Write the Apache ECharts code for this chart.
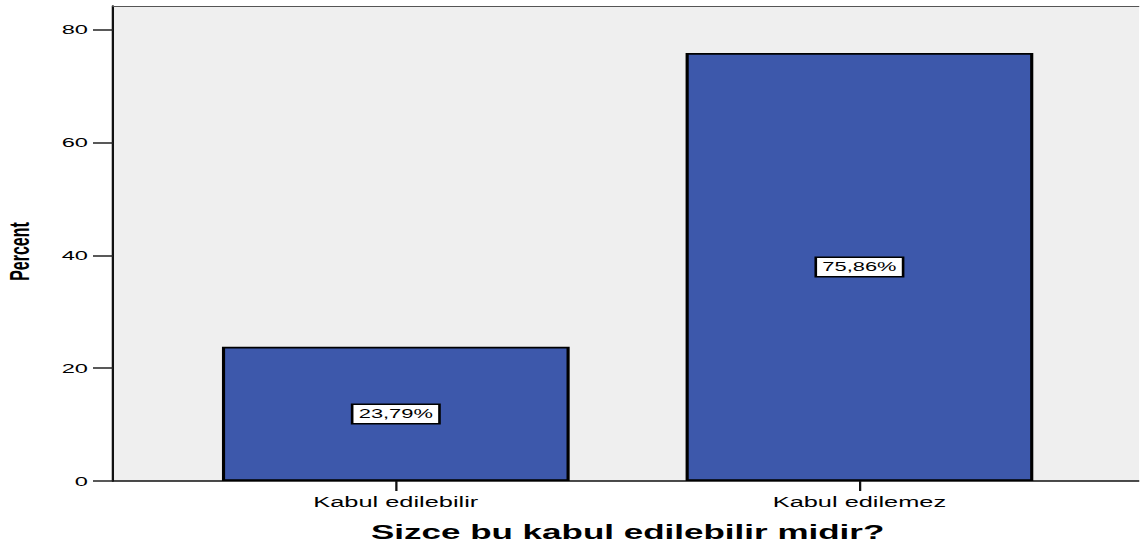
<!DOCTYPE html>
<html>
<head>
<meta charset="utf-8">
<script src="https://cdn.jsdelivr.net/npm/echarts@6/dist/echarts.min.js"></script>
<style>
html,body{margin:0;padding:0;background:#fff;overflow:hidden}
#wrap{width:1140px;height:550px;overflow:hidden}
#c{width:651.43px;height:550px;transform:scaleX(1.75);transform-origin:0 0}
</style>
</head>
<body>
<div id="wrap"><div id="c"></div></div>
<script>
const categories = ['Kabul edilebilir', 'Kabul edilemez'];
const percentValues = [23.79, 75.86];
const yTicks = [0, 20, 40, 60, 80];
const xTitle = 'Sizce bu kabul edilebilir midir?';
const yTitle = 'Percent';

// The original chart is a horizontally stretched SPSS chart; draw it in a
// narrower box and stretch it horizontally by the same factor.
const S = 1.75;
const px = v => v / S;

const chart = echarts.init(document.getElementById('c'), null, {renderer: 'svg'});
const FONT = 'Liberation Sans, Arial, sans-serif';
const yMax = 84.2;

chart.setOption({
  animation: false,
  backgroundColor: '#ffffff',
  grid: [
    {left: px(113), right: 0, top: 6, bottom: 69, show: true, backgroundColor: '#efefef', borderWidth: 0,
     containLabel: false, outerBoundsMode: 'none'},
    {left: px(164), right: px(48), top: 6, bottom: 69, show: false,
     containLabel: false, outerBoundsMode: 'none'}
  ],
  xAxis: [
    {gridIndex: 0, type: 'value', min: 0, max: 1, position: 'bottom',
     axisLine: {show: true, lineStyle: {color: '#111', width: 1.5}},
     axisTick: {show: false}, axisLabel: {show: false}, splitLine: {show: false}},
    {gridIndex: 0, type: 'value', min: 0, max: 1, position: 'top',
     axisLine: {show: true, lineStyle: {color: '#555', width: 1}},
     axisTick: {show: false}, axisLabel: {show: false}, splitLine: {show: false}},
    {gridIndex: 1, type: 'category', data: categories, position: 'bottom',
     axisLine: {show: false},
     axisTick: {show: true, alignWithLabel: true, length: 10, lineStyle: {color: '#111', width: 1.3}},
     axisLabel: {margin: 13, fontFamily: FONT, fontSize: 14.5, color: '#000'},
     name: xTitle, nameLocation: 'middle', nameGap: 41,
     nameTextStyle: {fontFamily: FONT, fontSize: 20, fontWeight: 'bold', color: '#000'}}
  ],
  yAxis: [
    {gridIndex: 0, type: 'value', min: 0, max: yMax,
     axisLine: {show: true, lineStyle: {color: '#111', width: 1.3}},
     axisTick: {show: true, length: px(20), customValues: yTicks, lineStyle: {color: '#222', width: 1.5}},
     axisLabel: {margin: px(25), customValues: yTicks, fontFamily: FONT, fontSize: 13.5, color: '#000'},
     splitLine: {show: false},
     name: yTitle, nameLocation: 'middle', nameGap: px(80),
     nameTextStyle: {fontFamily: 'Liberation Sans Narrow, Liberation Sans, Arial', fontSize: 16, fontWeight: 'bold', color: '#000',
                     padding: [0, 16, 0, 0]}},
    {gridIndex: 1, type: 'value', min: 0, max: yMax, show: false}
  ],
  series: [{
    type: 'bar',
    xAxisIndex: 2, yAxisIndex: 1,
    data: percentValues,
    barWidth: '75%',
    itemStyle: {color: '#3d58ab', borderColor: '#000', borderWidth: 1.8},
    label: {
      show: true, position: 'inside',
      formatter: p => p.value.toFixed(2).replace('.', ',') + '%',
      fontFamily: FONT, fontSize: 12.5, color: '#000',
      backgroundColor: '#fff', borderColor: '#000', borderWidth: 1.5,
      padding: [3, 3, 2, 3]
    }
  }]
});
</script>
</body>
</html>
